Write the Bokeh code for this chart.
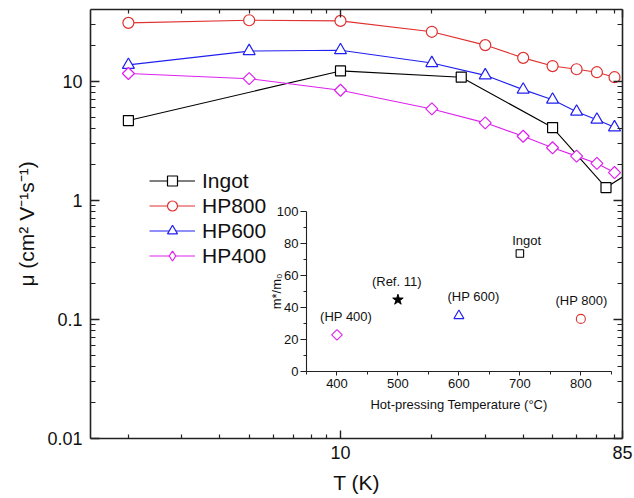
import math
from bokeh.plotting import figure
from bokeh.models import (LogAxis, LinearAxis, FixedTicker, Range1d, LinearScale,
                          Legend, LegendItem)
from bokeh.core.properties import value
from bokeh.embed import file_html
from bokeh.resources import INLINE

# ---------------- data ----------------
T_ingot = [2, 10, 25, 50, 75, 90]
mu_ingot = [4.67, 12.2, 10.8, 4.08, 1.28, 1.72]
T_hp = [2, 5, 10, 20, 30, 40, 50, 60, 70, 80]
mu_hp800 = [30.9, 32.5, 32.1, 26.0, 20.1, 15.7, 13.4, 12.6, 11.9, 10.8]
mu_hp600 = [13.7, 17.9, 18.2, 14.2, 11.2, 8.5, 7.0, 5.55, 4.75, 4.1]
mu_hp400 = [11.6, 10.5, 8.4, 5.85, 4.47, 3.45, 2.76, 2.35, 2.04, 1.71]

x_major = [10, 85]
x_minor = [2, 3, 4, 5, 6, 7, 8, 9, 20, 30, 40, 50, 60, 70, 80]
y_major = [0.01, 0.1, 1, 10]
y_major_labels = ["0.01", "0.1", "1", "10"]
y_minor = [0.02, 0.03, 0.04, 0.05, 0.06, 0.07, 0.08, 0.09,
           0.2, 0.3, 0.4, 0.5, 0.6, 0.7, 0.8, 0.9,
           2, 3, 4, 5, 6, 7, 8, 9, 20, 30]

# inset: effective mass vs hot-pressing temperature
inset_temp = [400, 500, 600, 700, 800]
inset_mass = [23, 45, 35, 74, 33]
inset_text = ["(HP 400)", "(Ref. 11)", "(HP 600)", "Ingot", "(HP 800)"]
inset_text_x = [415, 498, 624, 711, 801]
inset_text_y = [34.6, 56.4, 47, 82, 44.8]
inset_x_major = [400, 500, 600, 700, 800]
inset_x_minor = [350, 450, 550, 650, 750, 850]
inset_y_major = [0, 20, 40, 60, 80, 100]
inset_y_minor = [10, 30, 50, 70, 90]

# ---------------- styles ----------------
FONT = "Liberation Sans"
C_INGOT = "#000000"
C_800 = "#e03030"
C_600 = "#2020f0"
C_400 = "#dd22ee"
AXC = "#222222"

W, H = 634, 498
p = figure(width=W, height=H, x_axis_type="log", y_axis_type="log",
           x_range=Range1d(1.5, 85), y_range=Range1d(0.01, 40),
           output_backend="svg", toolbar_location=None,
           min_border_left=90, min_border_right=12, min_border_top=9,
           min_border_bottom=60)
p.grid.visible = False
p.outline_line_color = None
p.background_fill_color = "white"
p.border_fill_color = "white"

def style_axis(ax, major_in, minor_in):
    ax.axis_line_color = AXC
    ax.axis_line_width = 1.6
    ax.major_tick_line_color = AXC
    ax.minor_tick_line_color = AXC
    ax.major_tick_line_width = 1.4
    ax.minor_tick_line_width = 1.2
    ax.major_tick_in = major_in
    ax.major_tick_out = 0
    ax.minor_tick_in = minor_in
    ax.minor_tick_out = 0
    ax.major_label_text_font = FONT
    ax.major_label_text_color = "#111111"
    ax.axis_label_text_font = FONT
    ax.axis_label_text_font_style = "normal"
    ax.axis_label_text_color = "#111111"

xt = FixedTicker(ticks=x_major, minor_ticks=x_minor)
yt = FixedTicker(ticks=y_major, minor_ticks=y_minor)

bx = p.below[0]
ly = p.left[0]
bx.ticker = xt
ly.ticker = yt
style_axis(bx, 8, 4)
style_axis(ly, 9, 5)
bx.major_label_text_font_size = "18px"
ly.major_label_text_font_size = "18px"
bx.major_label_overrides = {10: "10", 85: "85"}
ly.major_label_overrides = {v: s for v, s in zip(y_major, y_major_labels)}
bx.major_label_standoff = 7
ly.major_label_standoff = 8
bx.axis_label = "T (K)"
ly.axis_label = "\u03bc (cm\u00b2 V\u207b\u00b9s\u207b\u00b9)"
bx.axis_label_text_font_size = "21px"
ly.axis_label_text_font_size = "21px"
bx.axis_label_standoff = 9
ly.axis_label_standoff = 6

top = LogAxis(ticker=FixedTicker(ticks=x_major, minor_ticks=x_minor))
right = LogAxis(ticker=FixedTicker(ticks=y_major, minor_ticks=y_minor))
for ax, mi, mn in ((top, 8, 4), (right, 9, 5)):
    style_axis(ax, mi, mn)
    ax.major_label_text_font_size = "1px"
    ax.major_label_text_alpha = 0
    ax.major_label_standoff = 0
p.add_layout(top, "above")
p.add_layout(right, "right")

# ---------------- main series ----------------
def series(xs, ys, color, marker, size, angle=0.0):
    ln = p.line(xs, ys, line_color=color, line_width=1.1)
    sc = p.scatter(xs, ys, marker=marker, size=size, angle=angle,
                   line_color=color, line_width=1.2, fill_color="white")
    return ln, sc

r_ing = series(T_ingot, mu_ingot, C_INGOT, "square", 10)
r_800 = series(T_hp, mu_hp800, C_800, "circle", 11)
r_600 = series(T_hp, mu_hp600, C_600, "triangle", 12)
r_400 = series(T_hp, mu_hp400, C_400, "square", 8.5, math.pi / 4)
# legend glyph for HP400 (legend markers ignore angles): hidden diamond
r_400_leg = p.scatter(T_hp, mu_hp400, marker="diamond", size=12,
                      line_color=C_400, line_width=1.2, fill_color="white",
                      visible=False)

legend = Legend(items=[
    LegendItem(label="Ingot", renderers=list(r_ing)),
    LegendItem(label="HP800", renderers=list(r_800)),
    LegendItem(label="HP600", renderers=list(r_600)),
    LegendItem(label="HP400", renderers=[r_400[0], r_400_leg]),
], location=(59, 170), glyph_width=46, glyph_height=25, label_height=25,
    spacing=0, padding=0, margin=0, border_line_color=None,
    background_fill_alpha=0, label_text_font=FONT, label_text_font_size="21px",
    label_text_color="#111111", label_standoff=7)
p.add_layout(legend, "center")

# ---------------- inset (same canvas, own linear scales) ----------------
fx0, fx1 = 0.406, 0.979   # x = 350 and 850
fy0, fy1 = 0.156, 0.528   # y = 0 and 100 (from frame bottom)
ix_span = (850 - 350) / (fx1 - fx0)
ix_a = 350 - fx0 * ix_span
iy_span = (100 - 0) / (fy1 - fy0)
iy_a = 0 - fy0 * iy_span
p.extra_x_ranges = {"ix": Range1d(ix_a, ix_a + ix_span)}
p.extra_y_ranges = {"iy": Range1d(iy_a, iy_a + iy_span)}
p.extra_x_scales = {"ix": LinearScale()}
p.extra_y_scales = {"iy": LinearScale()}

def style_inset(ax):
    ax.axis_line_color = AXC
    ax.axis_line_width = 1.1
    ax.major_tick_line_color = AXC
    ax.minor_tick_line_color = AXC
    ax.major_tick_in = 0
    ax.minor_tick_in = 0
    ax.major_label_text_font = FONT
    ax.major_label_text_font_size = "13px"
    ax.major_label_text_color = "#111111"
    ax.axis_label_text_font = FONT
    ax.axis_label_text_font_style = "normal"
    ax.axis_label_text_font_size = "13px"
    ax.axis_label_text_color = "#111111"

iay = LinearAxis(x_range_name="ix", y_range_name="iy", fixed_location=350,
                 bounds=(0, 100),
                 ticker=FixedTicker(ticks=inset_y_major, minor_ticks=inset_y_minor),
                 axis_label="m*/m\u2080")
style_inset(iay)
iay.major_tick_out = 6
iay.minor_tick_out = 3
iay.major_label_standoff = 2
iay.axis_label_standoff = -10
p.add_layout(iay, "left")

iax = LinearAxis(x_range_name="ix", y_range_name="iy", fixed_location=0,
                 bounds=(350, 850),
                 ticker=FixedTicker(ticks=inset_x_major, minor_ticks=inset_x_minor),
                 axis_label="Hot-pressing Temperature (\u00b0C)")
style_inset(iax)
iax.major_tick_out = 4
iax.minor_tick_out = 3
iax.major_label_standoff = 3
iax.axis_label_standoff = 6
p.add_layout(iax, "below")

kw = dict(x_range_name="ix", y_range_name="iy", line_width=1.1, fill_color="white")
p.scatter([inset_temp[0]], [inset_mass[0]], marker="square", angle=math.pi / 4,
          size=7.5, line_color=C_400, **kw)
p.scatter([inset_temp[1]], [inset_mass[1]], marker="star", size=11,
          x_range_name="ix", y_range_name="iy", line_color="black", fill_color="black")
p.scatter([inset_temp[2]], [inset_mass[2]], marker="triangle", size=10,
          line_color=C_600, **kw)
p.scatter([inset_temp[3]], [inset_mass[3]], marker="square", size=7.5,
          line_color=C_INGOT, **kw)
p.scatter([inset_temp[4]], [inset_mass[4]], marker="circle", size=9,
          line_color=C_800, **kw)

p.text(x=inset_text_x, y=inset_text_y, text=inset_text,
       x_range_name="ix", y_range_name="iy",
       text_align="center", text_baseline="middle",
       text_font=value(FONT), text_font_size="13px", text_color="#111111")

open("out.html", "w").write(file_html(p, INLINE))
